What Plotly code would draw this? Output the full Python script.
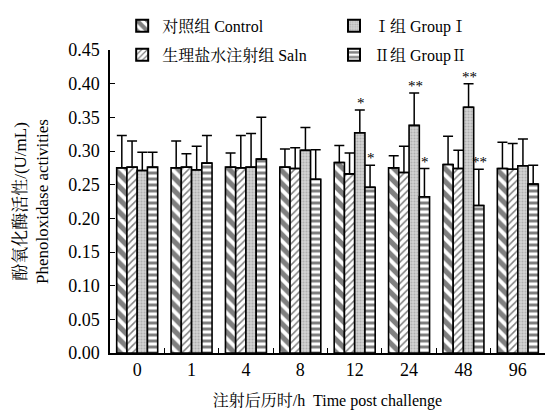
import plotly.graph_objects as go

categories = ["0", "1", "4", "8", "12", "24", "48", "96"]
series_names = ["对照组 Control", "生理盐水注射组 Saln", "Ⅰ组 GroupⅠ", "Ⅱ组 GroupⅡ"]

control = [0.275, 0.275, 0.276, 0.276, 0.283, 0.275, 0.280, 0.274]
saln = [0.276, 0.276, 0.275, 0.274, 0.266, 0.268, 0.274, 0.273]
group1 = [0.271, 0.272, 0.276, 0.301, 0.327, 0.338, 0.365, 0.278]
group2 = [0.276, 0.282, 0.288, 0.258, 0.246, 0.232, 0.219, 0.251]

control_err = [0.048, 0.040, 0.021, 0.027, 0.025, 0.018, 0.042, 0.039]
saln_err = [0.039, 0.020, 0.048, 0.031, 0.031, 0.039, 0.027, 0.038]
group1_err = [0.027, 0.035, 0.050, 0.034, 0.034, 0.048, 0.035, 0.040]
group2_err = [0.022, 0.041, 0.062, 0.044, 0.033, 0.042, 0.054, 0.028]

group1_sig = ["", "", "", "", "*", "**", "**", ""]
group2_sig = ["", "", "", "", "*", "*", "**", ""]

FONT = "'Liberation Serif', 'Noto Serif CJK SC', 'Noto Sans CJK SC', serif"

values = [control, saln, group1, group2]
errors = [control_err, saln_err, group1_err, group2_err]
patterns = [
    dict(shape="\\", fgcolor="black", bgcolor="white", size=9, solidity=0.58),
    dict(shape="/", fgcolor="black", bgcolor="white", size=5, solidity=0.3),
    dict(shape=".", fgcolor="#8a8a8a", bgcolor="#d4d4d4", size=3, solidity=0.4),
    dict(shape="-", fgcolor="black", bgcolor="white", size=6, solidity=0.5),
]
legend_ids = ["legend", "legend2", "legend3", "legend4"]

# page body adds an 8px offset; the figure fills the rest of the 554x413 window
W, H = 546, 405
ML, MR, MT, MB = 102, 9, 42, 60

fig = go.Figure()
for i in range(4):
    fig.add_trace(go.Bar(
        x=categories, y=values[i], name=series_names[i],
        marker=dict(color="white", pattern=patterns[i],
                    line=dict(color="black", width=1.6)),
        error_y=dict(type="data", symmetric=False, array=errors[i],
                     arrayminus=[0] * len(categories),
                     color="black", thickness=1.5, width=5),
        legend=legend_ids[i], showlegend=True,
    ))

# significance marks
plot_w = W - ML - MR
bargap = 0.246
barw = plot_w / len(categories) * (1 - bargap) / 4
for idx, (vals, errs, sig) in zip([2, 3], [(group1, group1_err, group1_sig),
                                           (group2, group2_err, group2_sig)]):
    for pos, (v, e, s) in enumerate(zip(vals, errs, sig)):
        if s:
            fig.add_annotation(x=pos, y=v + e, text=s, showarrow=False,
                               xref="x", yref="y",
                               xshift=(idx - 1.5) * barw + 1, yanchor="bottom",
                               yshift=-3, font=dict(family=FONT, size=15, color="#000000"))

legend_common = dict(font=dict(family=FONT, size=16, color="black"),
                     bgcolor="rgba(0,0,0,0)", xanchor="left", yanchor="middle",
                     xref="paper", yref="paper", itemsizing="constant")
fig.update_layout(
    showlegend=True,
    legend=dict(x=0.028, y=1.080, **legend_common),
    legend2=dict(x=0.028, y=0.984, **legend_common),
    legend3=dict(x=0.515, y=1.080, **legend_common),
    legend4=dict(x=0.515, y=0.984, **legend_common),
)

fig.update_layout(
    width=W, height=H,
    margin=dict(l=ML, r=MR, t=MT, b=MB, autoexpand=False),
    paper_bgcolor="white", plot_bgcolor="white",
    barmode="group", bargap=bargap, bargroupgap=0,
    font=dict(family=FONT, size=17, color="black"),
    xaxis=dict(type="category", range=[-0.5, 7.5], showline=True, linecolor="black",
               linewidth=1.5, ticks="inside", tickson="boundaries", ticklen=5,
               tickcolor="black", showgrid=False, zeroline=False, automargin=False,
               tickfont=dict(family=FONT, size=18),
               title=dict(text="注射后历时/h  Time post challenge",
                          font=dict(family=FONT, size=16), standoff=15)),
    yaxis=dict(range=[0, 0.45], dtick=0.05, tickformat=".2f", showline=True,
               linecolor="black", linewidth=1.5, ticks="inside", ticklen=5,
               tickcolor="black", showgrid=False, zeroline=False, automargin=False,
               tickfont=dict(family=FONT, size=18), ticklabelstandoff=5,
               title=dict(text="酚氧化酶活性/(U/mL)<br>Phenoloxidase activities",
                          font=dict(family=FONT, size=17), standoff=15)),
)

fig.write_html("out.html")
